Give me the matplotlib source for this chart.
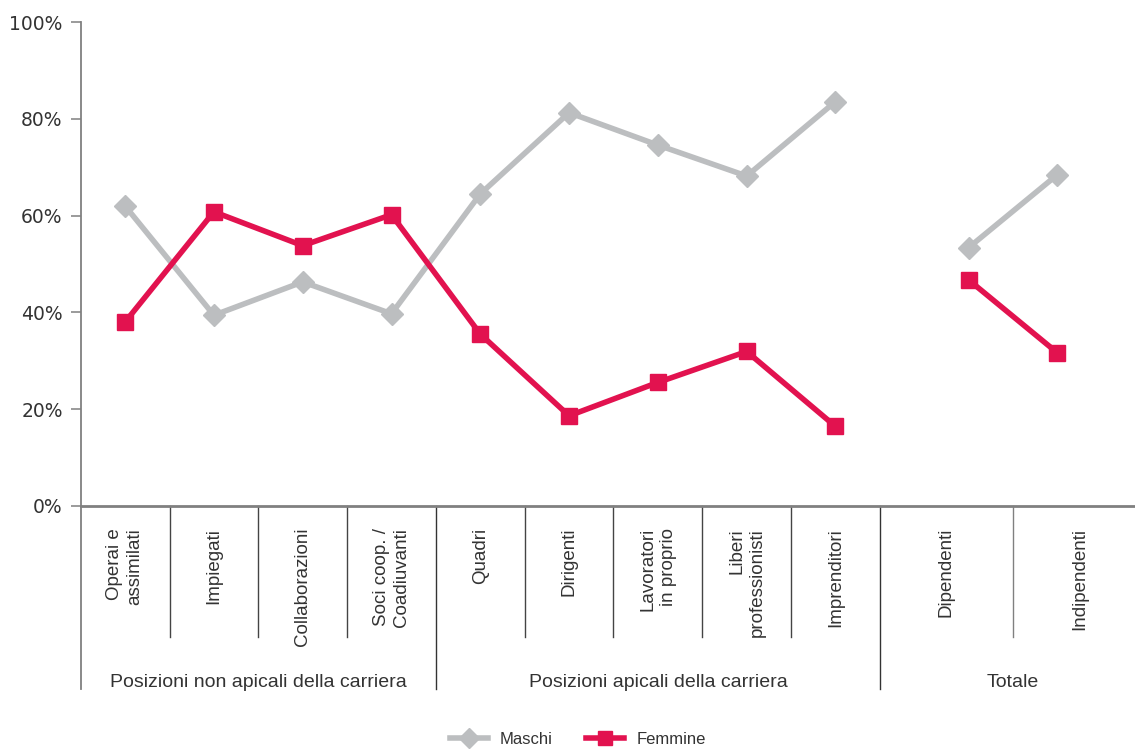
import matplotlib
matplotlib.use("Agg")
import matplotlib.pyplot as plt
from matplotlib.lines import Line2D
import matplotlib.font_manager as fm

# ---- data ----
categories = ["Operai e\nassimilati", "Impiegati", "Collaborazioni", "Soci coop. /\nCoadiuvanti",
              "Quadri", "Dirigenti", "Lavoratori\nin proprio", "Liberi\nprofessionisti",
              "Imprenditori", "Dipendenti", "Indipendenti"]
groups = ["Posizioni non apicali della carriera", "Posizioni apicali della carriera", "Totale"]
maschi = [62.0, 39.4, 46.3, 39.7, 64.5, 81.3, 74.6, 68.2, 83.6, 53.4, 68.5]
femmine = [38.0, 60.8, 53.8, 60.2, 35.5, 18.6, 25.5, 31.9, 16.4, 46.7, 31.6]
yticks = [0, 20, 40, 60, 80, 100]
ytick_labels = ["0%", "20%", "40%", "60%", "80%", "100%"]

# ---- style ----
names = {f.name for f in fm.fontManager.ttflist}
fam = ["Liberation Sans Narrow"] if "Liberation Sans Narrow" in names else ["Liberation Sans"]
plt.rcParams["font.family"] = fam + ["DejaVu Sans"]

GRAY = "#BCBEC0"
RED = "#E2124F"
AXC = "#808080"
TXT = "#333333"

fig = plt.figure(figsize=(11.35, 7.5), dpi=100)
unit = 88.8 / 1135
ax = fig.add_axes([80.7 / 1135, 1 - 505.7 / 750, 12 * unit, 483.4 / 750])

# point positions: first nine categories at 0..8, totals shifted
xpos = list(range(9)) + [9.5, 10.5]
ax.plot(xpos[:9], maschi[:9], color=GRAY, lw=4.0, marker="D", ms=11, zorder=3, clip_on=False)
ax.plot(xpos[9:], maschi[9:], color=GRAY, lw=4.0, marker="D", ms=11, zorder=3, clip_on=False)
ax.plot(xpos[:9], femmine[:9], color=RED, lw=4.0, marker="s", ms=11, zorder=4, clip_on=False)
ax.plot(xpos[9:], femmine[9:], color=RED, lw=4.0, marker="s", ms=11, zorder=4, clip_on=False)

ax.set_xlim(-0.5, 11.5)
ax.set_ylim(0, 100)
ax.set_yticks(yticks)
ax.set_yticklabels(ytick_labels, fontsize=13.5, color=TXT, family=["DejaVu Sans"])
ax.tick_params(axis="y", length=7, width=1.1, color=AXC, pad=6)
ax.set_xticks([])
for s in ["top", "right"]:
    ax.spines[s].set_visible(False)
ax.spines["left"].set_color(AXC)
ax.spines["left"].set_linewidth(1.3)
ax.spines["bottom"].set_color(AXC)
ax.spines["bottom"].set_linewidth(2.0)

# separators
cat_sep = [0.5, 1.5, 2.5, 4.5, 5.5, 6.5, 7.5, 10.0]
grp_sep = [3.5, 8.5]
for s in cat_sep:
    ax.add_line(Line2D([s, s], [0, -27.2], color="#444444" if s < 9 else AXC, lw=1.0, clip_on=False))
for s in grp_sep:
    ax.add_line(Line2D([s, s], [0, -38.0], color="#333333", lw=1.0, clip_on=False))
ax.add_line(Line2D([-0.5, -0.5], [0, -38.0], color=AXC, lw=1.3, clip_on=False))

# category labels
label_x = list(range(9)) + [9.25, 10.75]
for x, lab in zip(label_x, categories):
    ax.text(x, -4.6, lab, rotation=90, ha="center", va="top", multialignment="right",
            fontsize=13.5, color=TXT, linespacing=1.25, clip_on=False)

group_x = [1.5, 6.0, 10.0]
for x, g in zip(group_x, groups):
    ax.text(x, -36.6, g, ha="center", va="center", fontsize=14, color=TXT, clip_on=False)

# legend
handles = [Line2D([], [], color=GRAY, lw=4.0, marker="D", ms=10),
           Line2D([], [], color=RED, lw=4.0, marker="s", ms=10)]
fig.legend(handles, ["Maschi", "Femmine"], loc="center", bbox_to_anchor=(0.509, 0.014),
           ncol=2, frameon=False, fontsize=12, handlelength=2.3, columnspacing=2.0,
           handletextpad=0.7, labelcolor=TXT)

fig.savefig("out.png", dpi=100)
